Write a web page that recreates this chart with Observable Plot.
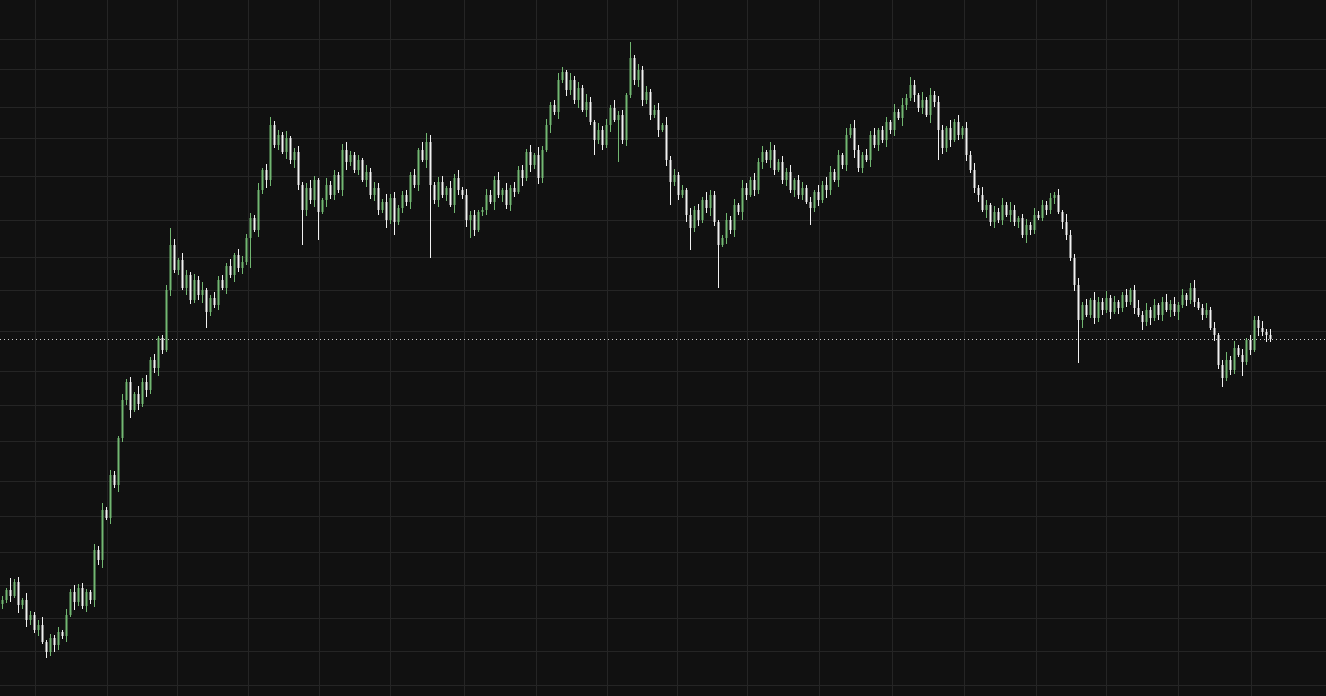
<!DOCTYPE html>
<html>
<head>
<meta charset="utf-8">
<script src="https://cdn.jsdelivr.net/npm/d3@7"></script>
<script src="https://cdn.jsdelivr.net/npm/@observablehq/plot@0.6"></script>
<style>
  html, body { margin: 0; padding: 0; background: #111111; overflow: hidden; }
  #chart svg { display: block; }
</style>
</head>
<body>
<div id="chart"></div>
<script>
// Close prices, one per candle (price units)
const closes = [
  100,110,104,118,95,100,80,85,70,75,58,48,62,55,68,64,85,108,98,112,
  94,108,100,150,140,190,182,225,215,262,300,318,290,306,296,318,310,340,332,362,
  350,410,455,430,440,412,425,400,420,405,410,388,402,395,420,412,434,425,445,432,
  438,462,482,470,510,530,520,575,555,565,548,562,540,548,515,490,512,500,520,488,
  500,515,505,525,510,550,538,545,530,540,520,528,505,512,490,498,480,502,478,492,
  505,498,525,515,550,540,558,515,500,518,505,512,495,522,510,505,480,485,470,488,
  490,505,498,520,505,510,495,512,508,530,522,548,535,545,522,550,575,595,588,620,
  628,610,620,600,612,590,598,578,560,570,555,575,592,580,585,560,605,642,620,630,
  600,608,585,590,570,575,540,518,525,505,510,485,472,490,480,500,492,505,478,455,
  462,480,470,495,488,512,505,520,510,538,548,540,550,530,538,520,528,510,520,505,
  512,498,492,508,500,515,510,528,520,545,535,565,572,550,532,545,540,565,555,570,
  560,578,570,588,582,595,602,615,605,592,600,585,605,598,570,552,572,560,578,565,
  572,545,530,512,505,490,495,478,488,480,495,485,490,478,482,465,475,470,485,482,
  495,490,502,505,488,478,465,442,415,380,395,385,400,382,398,390,402,388,398,392,
  405,398,410,392,385,378,390,382,395,385,398,390,396,388,395,405,400,412,398,392,
  385,390,372,365,335,322,340,330,352,345,338,360,350,380,372,368,365,361
];
const firstOpen = 96;

// Wick lengths above / below each body (one digit per candle, price units)
const wickUp =
  "42635274358243526374" + "53264735426352847362" + "35462753648236453726" +
  "64537268453724635842" + "27453684352746538463" + "45362847356274836452" +
  "36548273645372846357" + "52746385274638452736" + "46357284635274638542" +
  "37462853746285364725" + "63527486352748536472" + "45283746528374652837" +
  "26473852647385246374" + "54736285473628547362" + "36258473625847362584" +
  "47362584736258473625";
const wickDown =
  "53628475362847536284" + "36475826374582637458" + "42635274358243526374" +
  "63527486352748536472" + "27453684352746538463" + "54736285473628547362" +
  "45283746528374652837" + "36548273645372846357" + "64537268453724635842" +
  "26473852647385246374" + "52746385274638452736" + "37462853746285364725" +
  "46357284635274638542" + "35462753648236453726" + "45362847356274836452" +
  "53264735426352847362";

// Long wicks: [candle index, price]
const spikeHighs = [[2,122],[42,472],[67,583],[106,567],[140,633],[157,658],[227,623],[262,507],[297,417],[313,384]];
const spikeLows = [[11,42],[51,372],[62,432],[75,455],[79,460],[98,465],[107,442],[117,462],[148,545],[154,538],
  [167,495],[172,450],[179,412],[202,475],[234,540],[269,337],[305,313],[310,324]];

// Grid tick values
const priceTicks = [661,631,593,562,524,480,443,410,369,329,295,259,219,184,148,115,82,49,15];
const timeTicks = [8.25,26.25,43.75,61.5,79.25,97,115.5,133.5,151.25,168.75,186.25,204.25,222.5,240.5,258.5,276,294,312.25];

const hiMap = new Map(spikeHighs);
const loMap = new Map(spikeLows);

const candles = closes.map((c, i) => {
  const o = i === 0 ? firstOpen : closes[i - 1];
  const top = Math.max(o, c), bot = Math.min(o, c);
  const high = hiMap.has(i) ? hiMap.get(i) : top + (+wickUp[i] || 2);
  const low = loMap.has(i) ? loMap.get(i) : bot - (+wickDown[i] || 2);
  return {i, open: o, close: c, high, low, bodyTop: top === bot ? top + 1 : top, bodyBot: bot, up: c >= o};
});
const lastClose = closes[closes.length - 1];

const UP = "#72b872";
const DOWN = "#f2f2f2";

const chart = Plot.plot({
  width: 1326,
  height: 696,
  margin: 0,
  style: {background: "#111111"},
  x: {type: "linear", domain: [-0.5, 331], axis: null},
  y: {type: "linear", domain: [4, 700], axis: null},
  marks: [
    Plot.ruleY(priceTicks, {stroke: "#252525", strokeWidth: 1}),
    Plot.ruleX(timeTicks, {stroke: "#252525", strokeWidth: 1}),
    Plot.ruleY([lastClose], {stroke: "#cfcfcf", strokeWidth: 1, strokeDasharray: "1,3"}),
    Plot.ruleX(candles, {x: "i", y1: "low", y2: "high", stroke: d => d.up ? UP : DOWN, strokeWidth: 1}),
    Plot.ruleX(candles, {x: "i", y1: "bodyBot", y2: "bodyTop", stroke: d => d.up ? UP : DOWN, strokeWidth: 2})
  ]
});
document.getElementById("chart").appendChild(chart);
</script>
</body>
</html>
